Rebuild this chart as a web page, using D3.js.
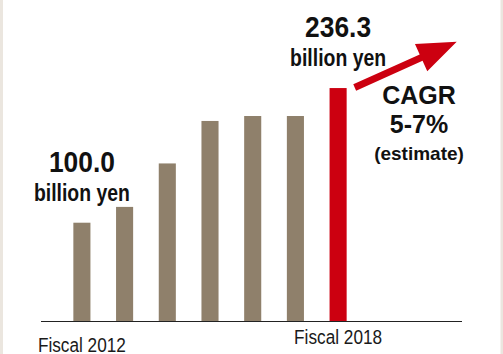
<!DOCTYPE html>
<html>
<head>
<meta charset="utf-8">
<script src="https://cdn.jsdelivr.net/npm/d3@7/dist/d3.min.js"></script>
<style>
  html, body { margin: 0; padding: 0; background: #ffffff; }
  svg { display: block; font-family: "Liberation Sans", Arial, sans-serif; }
</style>
</head>
<body>
<svg id="chart" width="503" height="354"></svg>
<script>
// Sales by fiscal year (billion yen)
const years = ["2012", "2013", "2014", "2015", "2016", "2017", "2018"];
const sales = [100.0, 116, 160, 203, 208, 208, 236.3];
const tickYears = ["2012", "2018"];
const unitLabel = "billion yen";
const cagrLines = ["CAGR", "5-7%", "(estimate)"];

const W = 503, H = 354;
const svg = d3.select("#chart");

// page frame: light side strips
svg.append("rect").attr("x", 0).attr("y", 0).attr("width", W).attr("height", H).attr("fill", "#ffffff");
svg.append("rect").attr("x", 0).attr("y", 0).attr("width", 3).attr("height", H).attr("fill", "#ebe6df");
svg.append("rect").attr("x", 500.5).attr("y", 0).attr("width", 2.5).attr("height", H).attr("fill", "#ebe6df");

const x = d3.scaleBand()
  .domain(years)
  .range([52, 368])
  .paddingInner(0.6)
  .paddingOuter(0.5);

const y = d3.scaleLinear()
  .domain([0, 240])
  .range([321.5, 84.4]);

const cx = d => x(d) + x.bandwidth() / 2;
const last = years[years.length - 1];

// bars
svg.append("g")
  .selectAll("rect")
  .data(years.map((yr, i) => ({ yr, v: sales[i] })))
  .join("rect")
  .attr("x", d => x(d.yr))
  .attr("y", d => y(d.v))
  .attr("width", x.bandwidth())
  .attr("height", d => y(0) - y(d.v))
  .attr("fill", d => d.yr === last ? "#cc0010" : "#8f806b");

// baseline
svg.append("line")
  .attr("x1", 41).attr("x2", 462)
  .attr("y1", y(0)).attr("y2", y(0))
  .attr("stroke", "#222").attr("stroke-width", 1);

// fiscal year labels under first and last bars
const tickDy = { "2012": 30, "2018": 22 };
svg.append("g")
  .selectAll("text")
  .data(tickYears)
  .join("text")
  .attr("x", d => cx(d))
  .attr("y", d => y(0) + tickDy[d])
  .attr("text-anchor", "middle")
  .attr("font-size", 20)
  .attr("fill", "#1a1a1a")
  .attr("textLength", 88)
  .attr("lengthAdjust", "spacingAndGlyphs")
  .text(d => "Fiscal " + d);

// value callouts for first and last year
const fmt = d3.format(".1f");
[0, sales.length - 1].forEach(i => {
  const px = cx(years[i]);
  const top = y(sales[i]);
  svg.append("text")
    .attr("x", px).attr("y", top - 51)
    .attr("text-anchor", "middle")
    .attr("font-size", 30).attr("font-weight", "bold")
    .attr("fill", "#111")
    .attr("textLength", 66)
    .attr("lengthAdjust", "spacingAndGlyphs")
    .text(fmt(sales[i]));
  svg.append("text")
    .attr("x", px).attr("y", top - 22)
    .attr("text-anchor", "middle")
    .attr("font-size", 24).attr("font-weight", "bold")
    .attr("fill", "#111")
    .attr("textLength", 96)
    .attr("lengthAdjust", "spacingAndGlyphs")
    .text(unitLabel);
});

// growth arrow
function arrowPath(x0, y0, x1, y1, shaft, headLen, headW) {
  const dx = x1 - x0, dy = y1 - y0;
  const len = Math.hypot(dx, dy);
  const ux = dx / len, uy = dy / len;
  const nx = -uy, ny = ux;
  const bx = x1 - ux * headLen, by = y1 - uy * headLen;
  const pts = [
    [x0 + nx * shaft / 2, y0 + ny * shaft / 2],
    [bx + nx * shaft / 2, by + ny * shaft / 2],
    [bx + nx * headW / 2, by + ny * headW / 2],
    [x1, y1],
    [bx - nx * headW / 2, by - ny * headW / 2],
    [bx - nx * shaft / 2, by - ny * shaft / 2],
    [x0 - nx * shaft / 2, y0 - ny * shaft / 2]
  ];
  return "M" + pts.map(p => p.join(",")).join("L") + "Z";
}
svg.append("path")
  .attr("d", arrowPath(354.7, 87.5, 456.7, 41.7, 7, 39, 30))
  .attr("fill", "#cc0010");

// CAGR note
const cagrStyle = [
  { size: 25, y: 104 },
  { size: 25, y: 133 },
  { size: 19, y: 160 }
];
svg.append("g")
  .selectAll("text")
  .data(cagrLines)
  .join("text")
  .attr("x", 419)
  .attr("y", (d, i) => cagrStyle[i].y)
  .attr("text-anchor", "middle")
  .attr("font-size", (d, i) => cagrStyle[i].size)
  .attr("font-weight", "bold")
  .attr("fill", "#111")
  .text(d => d);
</script>
</body>
</html>
